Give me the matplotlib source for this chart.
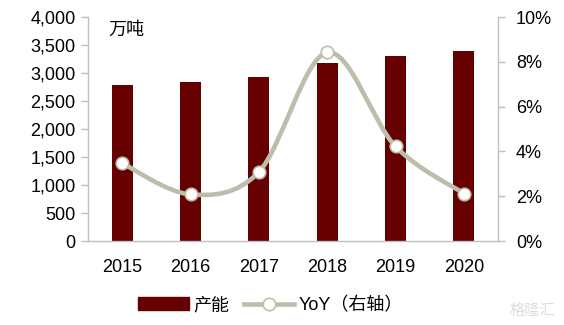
import matplotlib
matplotlib.use('Agg')
import matplotlib.pyplot as plt
import numpy as np
from matplotlib.path import Path
from matplotlib.patches import PathPatch
from matplotlib.lines import Line2D
from matplotlib.ticker import FuncFormatter

plt.rcParams['font.family'] = ['Liberation Sans', 'Noto Sans CJK SC', 'DejaVu Sans']

years = ['2015', '2016', '2017', '2018', '2019', '2020']
capacity = [2785, 2845, 2925, 3185, 3310, 3385]
yoy = [3.47, 2.08, 3.08, 8.42, 4.22, 2.12]

bar_color = '#660000'
line_color = '#bdbdac'
axis_color = '#bfbfbf'

fig = plt.figure(figsize=(5.64, 3.25), dpi=100)
ax = fig.add_axes([88 / 564, 1 - 241 / 325, 410 / 564, 224 / 325])
ax2 = ax.twinx()

x = np.arange(len(years))
ax.bar(x, capacity, width=0.31, color=bar_color, zorder=2)
ax.set_xlim(-0.5, len(years) - 0.5)
ax.set_ylim(0, 4000)
ax.set_yticks(range(0, 4001, 500))
ax.yaxis.set_major_formatter(FuncFormatter(lambda v, p: f'{int(v):,}'))
ax.set_xticks(x)
ax.set_xticklabels(years)

# smooth line (Catmull-Rom style bezier, like Excel's smoothed line)
pts = list(zip(x.astype(float), yoy))
verts = [pts[0]]
codes = [Path.MOVETO]
n = len(pts)
for i in range(n - 1):
    p0 = pts[i - 1] if i > 0 else pts[i]
    p1 = pts[i]
    p2 = pts[i + 1]
    p3 = pts[i + 2] if i + 2 < n else pts[i + 1]
    c1 = (p1[0] + (p2[0] - p0[0]) / 6, p1[1] + (p2[1] - p0[1]) / 6)
    c2 = (p2[0] - (p3[0] - p1[0]) / 6, p2[1] - (p3[1] - p1[1]) / 6)
    verts += [c1, c2, p2]
    codes += [Path.CURVE4] * 3
ax2.add_patch(PathPatch(Path(verts, codes), facecolor='none', edgecolor=line_color,
                        lw=3.3, zorder=3, capstyle='round'))
ax2.plot(x, yoy, ls='none', marker='o', ms=9, mfc='white', mec=line_color, mew=1.2, zorder=4)
ax2.set_ylim(0, 10)
ax2.set_yticks(range(0, 11, 2))
ax2.yaxis.set_major_formatter(FuncFormatter(lambda v, p: f'{int(v)}%'))

for a in (ax, ax2):
    a.spines['top'].set_visible(False)
    for s in ('left', 'right', 'bottom'):
        a.spines[s].set_color(axis_color)
        a.spines[s].set_linewidth(1)
    a.tick_params(axis='y', colors=axis_color, labelcolor='black', labelsize=13, length=5, width=1)
ax.spines['right'].set_visible(False)
ax2.spines['left'].set_visible(False)
ax2.spines['bottom'].set_visible(False)
ax.tick_params(axis='x', length=0, labelsize=13, pad=13)
ax.tick_params(axis='y', pad=4)
ax2.tick_params(axis='y', pad=8)

ax.text(0.05, 0.985, '万吨', transform=ax.transAxes, fontsize=13, va='top', ha='left',
        family=['Noto Sans CJK SC', 'DejaVu Sans'])

handles = [
    plt.Rectangle((0, 0), 1, 1, color=bar_color),
    Line2D([], [], color=line_color, lw=3.3, marker='o', ms=9, mfc='white', mec=line_color, mew=1.2),
]
fig.legend(handles, ['产能', 'YoY（右轴）'], loc='center', bbox_to_anchor=(0.48, 0.06),
           ncol=2, frameon=False, handlelength=2.8, handleheight=0.7,
           columnspacing=0.8, handletextpad=0.25,
           prop={'family': ['Liberation Sans', 'Noto Sans CJK SC'], 'size': 13})

fig.text(0.985, 0.02, '格隆汇', ha='right', va='bottom', fontsize=11, color='#dddddd',
         family=['Noto Sans CJK SC', 'DejaVu Sans'])

fig.savefig('out.png', dpi=100)
